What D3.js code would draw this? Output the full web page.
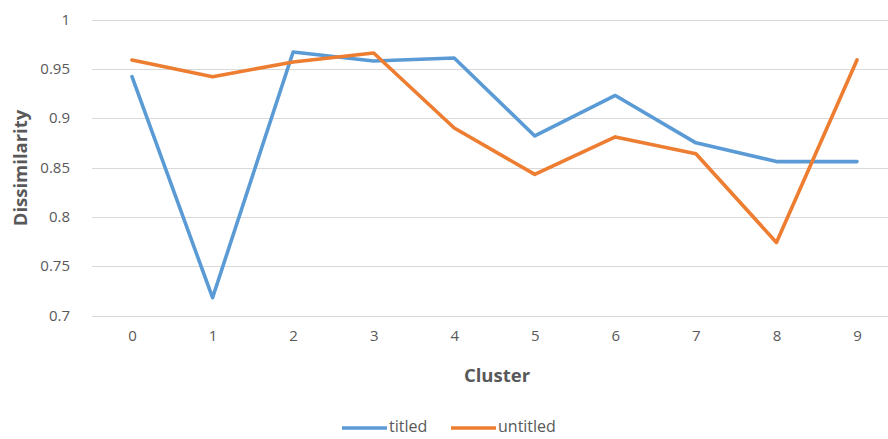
<!DOCTYPE html>
<html>
<head>
<meta charset="utf-8">
<script src="https://cdn.jsdelivr.net/npm/d3@7"></script>
<style>
  html, body { margin: 0; padding: 0; background: #fff; }
  svg { display: block; font-family: "Open Sans", Lato, "Liberation Sans", sans-serif; }
</style>
</head>
<body>
<svg id="chart" width="888" height="439"></svg>
<script>
// Cluster ids on the x axis
const clusters = [0, 1, 2, 3, 4, 5, 6, 7, 8, 9];
// Mean dissimilarity per cluster
const titled   = [0.942, 0.718, 0.967, 0.958, 0.961, 0.882, 0.923, 0.875, 0.856, 0.856];
const untitled = [0.959, 0.942, 0.957, 0.966, 0.890, 0.843, 0.881, 0.864, 0.774, 0.959];
// Y axis ticks
const yTicks = [0.7, 0.75, 0.8, 0.85, 0.9, 0.95, 1];

const seriesList = [
  { name: "titled", values: titled, color: "#5B9BD5" },
  { name: "untitled", values: untitled, color: "#ED7D31" }
];

const svg = d3.select("#chart");
const textColor = "#595959";
const fontFamily = "'Open Sans', Lato, sans-serif";

const x = d3.scalePoint().domain(clusters).range([132, 857]);
const y = d3.scaleLinear().domain([0.7, 1]).range([315.5, 19.5]);

// Horizontal gridlines
svg.append("g")
  .selectAll("line")
  .data(yTicks)
  .join("line")
  .attr("x1", 92).attr("x2", 888)
  .attr("y1", d => Math.round(y(d)) + 0.5)
  .attr("y2", d => Math.round(y(d)) + 0.5)
  .attr("stroke", "#d9d9d9")
  .attr("stroke-width", 1.2);

// Y axis labels
const yAxis = d3.axisLeft(y).tickValues(yTicks).tickSize(0).tickPadding(0)
  .tickFormat(d => d3.format("")(+d.toFixed(2)));
svg.append("g")
  .attr("transform", "translate(70,0)")
  .call(yAxis)
  .call(g => g.select(".domain").remove())
  .call(g => g.selectAll("text")
    .attr("fill", textColor)
    .style("font-size", "15px")
    .style("font-family", fontFamily));

// X axis labels
const xAxis = d3.axisBottom(x).tickSize(0).tickPadding(0);
svg.append("g")
  .attr("transform", "translate(0,330)")
  .call(xAxis)
  .call(g => g.select(".domain").remove())
  .call(g => g.selectAll("text")
    .attr("fill", textColor)
    .style("font-size", "15px")
    .style("font-family", fontFamily));

// Axis titles
svg.append("text")
  .attr("transform", "translate(27,168) rotate(-90)")
  .attr("text-anchor", "middle")
  .attr("fill", textColor)
  .style("font-size", "18.5px")
  .style("font-weight", "bold")
  .text("Dissimilarity");

svg.append("text")
  .attr("x", 497).attr("y", 382)
  .attr("text-anchor", "middle")
  .attr("fill", textColor)
  .style("font-size", "18.5px")
  .style("font-weight", "bold")
  .text("Cluster");

// Series lines
const line = d3.line()
  .x((d, i) => x(clusters[i]))
  .y(d => y(d));

svg.append("g")
  .selectAll("path")
  .data(seriesList)
  .join("path")
  .attr("d", d => line(d.values))
  .attr("fill", "none")
  .attr("stroke", d => d.color)
  .attr("stroke-width", 3.6)
  .attr("stroke-linejoin", "round")
  .attr("stroke-linecap", "round");

// Legend
const legendItems = [
  { x: 342, textX: 389 },
  { x: 451, textX: 498 }
];
const legend = svg.append("g");
seriesList.forEach((s, i) => {
  const p = legendItems[i];
  legend.append("line")
    .attr("x1", p.x).attr("x2", p.x + 45)
    .attr("y1", 428).attr("y2", 428)
    .attr("stroke", s.color)
    .attr("stroke-width", 3.6);
  legend.append("text")
    .attr("x", p.textX).attr("y", 426)
    .attr("dy", "0.35em")
    .attr("fill", textColor)
    .style("font-size", "16px")
    .text(s.name);
});
</script>
</body>
</html>
